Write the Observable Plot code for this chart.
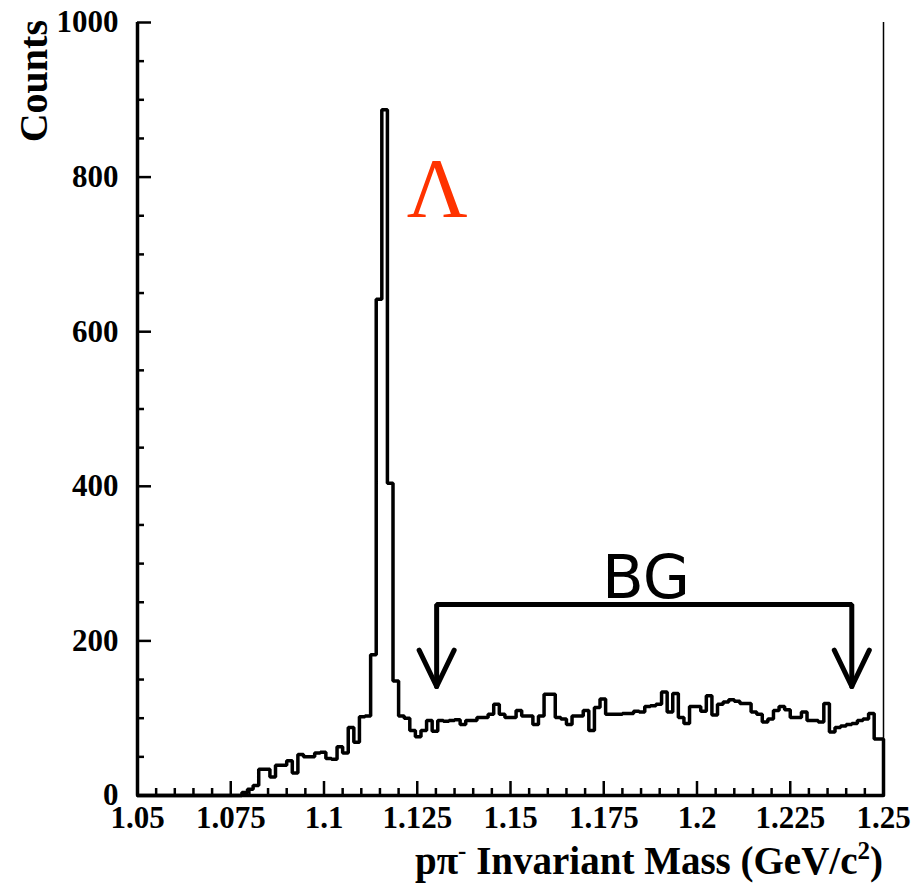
<!DOCTYPE html>
<html>
<head>
<meta charset="utf-8">
<script src="https://cdn.jsdelivr.net/npm/d3@7"></script>
<script src="https://cdn.jsdelivr.net/npm/@observablehq/plot@0.6"></script>
<style>
  html, body { margin: 0; padding: 0; background: #fff; }
</style>
</head>
<body>
<div id="chart"></div>
<script>
// ---- data ----
const binStart = 1.0495;   // left edge of first histogram bin (GeV/c^2)
const binWidth = 0.0015;   // bin width (GeV/c^2)
const counts = [
  0,0,0,0,0,0,0,0,0,0,0,0,0,0,0,0,0,0,0,
  4,8,13,34,34,24,39,39,45,29,
  53,50,50,55,56,48,47,63,55,88,
  69,102,103,182,642,887,404,148,
  103,100,84,76,84,97,83,97,96,97,
  98,92,97,97,101,101,105,118,105,101,
  101,110,103,103,92,103,131,131,101,99,
  92,103,103,110,84,114,125,105,105,105,
  106,106,109,108,115,116,118,134,108,132,
  101,93,115,115,109,129,104,118,121,124,
  122,119,119,108,105,95,99,110,115,111,
  101,101,108,97,97,95,119,82,88,90,
  92,93,97,99,106,73,73
];
const xDomain = [1.05, 1.25];
const yDomain = [0, 1000];
const xMajor = [1.05, 1.075, 1.1, 1.125, 1.15, 1.175, 1.2, 1.225, 1.25];
const xTickLabels = ["1.05", "1.075", "1.1", "1.125", "1.15", "1.175", "1.2", "1.225", "1.25"];
const yMajor = [0, 200, 400, 600, 800, 1000];
const yTickLabels = ["0", "200", "400", "600", "800", "1000"];
const xMinorStep = 0.005;
const yMinorStep = 50;

// annotations
const lambdaLabel = [{x: 1.1222, y: 748, t: "\u039B"}];
const bgLabel = [{x: 1.1863, y: 255, t: "BG"}];
const bgRange = [1.1302, 1.2415];
const bgLevel = 247;
const arrowTip = 141;
const arrowArmTop = 188;
const arrowArmDx = 0.0047;

// ---- derived tables ----
const clampX = v => Math.max(xDomain[0], Math.min(xDomain[1], v));
const histPts = counts.map((c, i) => ({x: clampX(binStart + i * binWidth), y: c}));
histPts.push({x: clampX(binStart + counts.length * binWidth), y: counts[counts.length - 1]});
histPts.push({x: clampX(binStart + counts.length * binWidth), y: 0});

const xMinor = d3.range(0, Math.round((xDomain[1] - xDomain[0]) / xMinorStep) + 1)
  .map(i => +(xDomain[0] + i * xMinorStep).toFixed(4))
  .filter(v => !xMajor.some(m => Math.abs(m - v) < 1e-9));
const yMinor = d3.range(yDomain[0], yDomain[1] + 1, yMinorStep)
  .filter(v => !yMajor.includes(v));

const bracketPts = [
  {x: bgRange[0], y: arrowTip},
  {x: bgRange[0], y: bgLevel},
  {x: bgRange[1], y: bgLevel},
  {x: bgRange[1], y: arrowTip}
];
const arrowPts = bgRange.flatMap((e, k) => [
  {x: e - arrowArmDx, y: arrowArmTop, k},
  {x: e, y: arrowTip, k},
  {x: e + arrowArmDx, y: arrowArmTop, k}
]);

// ---- layout ----
const W = 923, H = 887;
const mL = 137, mR = 40, mT = 22, mB = 92;
const frameW = W - mL - mR, frameH = H - mT - mB;
const serif = "'Liberation Serif', 'Times New Roman', serif";

const chart = Plot.plot({
  width: W,
  height: H,
  marginLeft: mL, marginRight: mR, marginTop: mT, marginBottom: mB,
  x: {domain: xDomain},
  y: {domain: yDomain},
  style: {fontFamily: serif, fontWeight: "bold", fontSize: "31px", background: "#fff", color: "#000", overflow: "visible"},
  marks: [
    // tick labels
    Plot.axisX(xMajor, {tickSize: 0, tickPadding: 10, label: null,
      tickFormat: d => xTickLabels[xMajor.indexOf(d)], fontSize: 31, fontWeight: "bold"}),
    Plot.axisY(yMajor, {tickSize: 0, tickPadding: 19, label: null,
      tickFormat: d => yTickLabels[yMajor.indexOf(d)], fontSize: 31, fontWeight: "bold"}),
    // inward ticks
    Plot.tickX(xMajor, {x: d => d, insetTop: frameH - 14, strokeWidth: 2.5}),
    Plot.tickX(xMinor, {x: d => d, insetTop: frameH - 7, strokeWidth: 2.5}),
    Plot.tickY(yMajor, {y: d => d, insetRight: frameW - 14, strokeWidth: 2.5}),
    Plot.tickY(yMinor, {y: d => d, insetRight: frameW - 7, strokeWidth: 2.5}),
    // histogram
    Plot.line(histPts, {x: "x", y: "y", curve: "step-after", stroke: "#000", strokeWidth: 3.5, strokeLinejoin: "miter"}),
    // frame lines
    Plot.ruleX([xDomain[1]], {stroke: "#000", strokeWidth: 1.5}),
    Plot.ruleX([xDomain[0]], {stroke: "#000", strokeWidth: 3.5}),
    Plot.ruleY([yDomain[0]], {stroke: "#000", strokeWidth: 3.5}),
    // BG bracket and arrows
    Plot.line(bracketPts, {x: "x", y: "y", stroke: "#000", strokeWidth: 5, strokeLinejoin: "miter"}),
    Plot.line(arrowPts, {x: "x", y: "y", z: "k", stroke: "#000", strokeWidth: 5, strokeLinejoin: "round", strokeLinecap: "round"}),
    // labels
    Plot.text(lambdaLabel, {x: "x", y: "y", text: "t", fill: "#ff3300", fontSize: 84,
      fontFamily: serif, fontWeight: "normal", textAnchor: "start", lineAnchor: "bottom"}),
    Plot.text(bgLabel, {x: "x", y: "y", text: "t", fill: "#000", fontSize: 61,
      fontFamily: "'DejaVu Sans', sans-serif", fontWeight: "normal", textAnchor: "middle", lineAnchor: "bottom"})
  ]
});

const svg = d3.select(chart);
// y axis title
svg.append("text")
  .attr("transform", "translate(47,20) rotate(-90)")
  .attr("text-anchor", "end")
  .attr("font-family", serif)
  .attr("font-weight", "bold")
  .attr("font-size", 40)
  .attr("fill", "#000")
  .text("Counts");
// x axis title with superscripts
const xt = svg.append("text")
  .attr("x", W - mR)
  .attr("y", 874)
  .attr("text-anchor", "end")
  .attr("font-family", serif)
  .attr("font-weight", "bold")
  .attr("font-size", 39)
  .attr("fill", "#000");
xt.append("tspan").text("p\u03C0");
xt.append("tspan").attr("dy", -15).attr("font-size", 25).text("-");
xt.append("tspan").attr("dy", 15).text(" Invariant Mass (GeV/c");
xt.append("tspan").attr("dy", -15).attr("font-size", 25).text("2");
xt.append("tspan").attr("dy", 15).text(")");

document.getElementById("chart").appendChild(chart);
</script>
</body>
</html>
